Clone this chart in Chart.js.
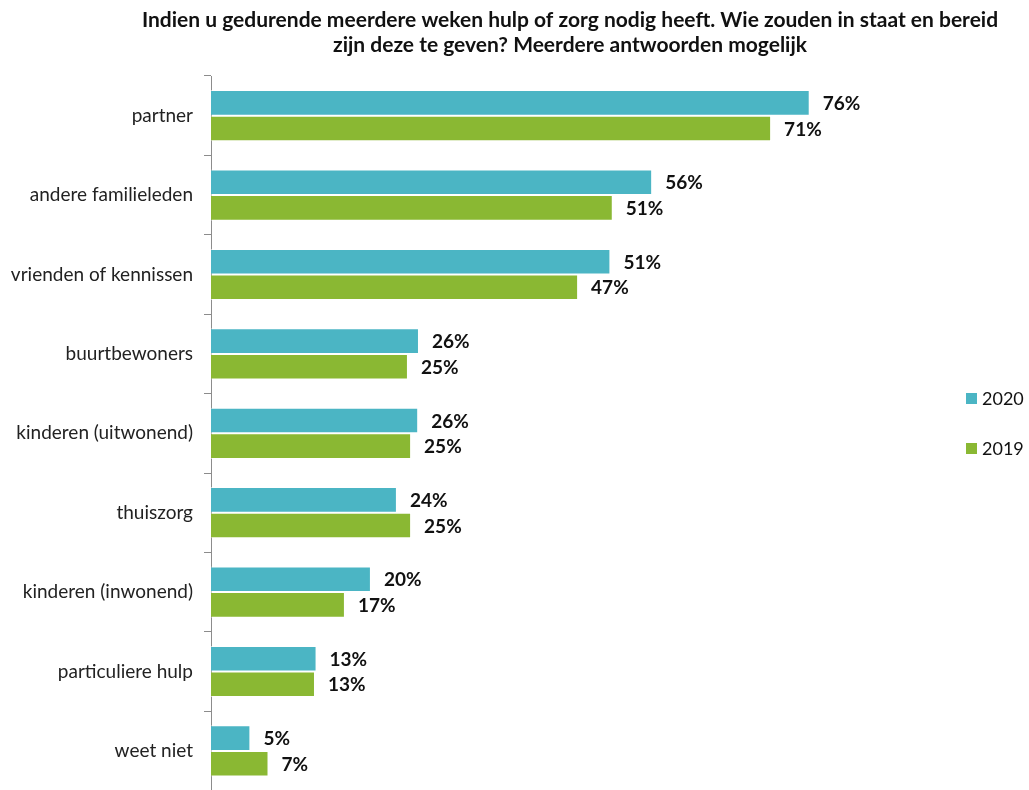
<!DOCTYPE html>
<html>
<head>
<meta charset="utf-8">
<script src="https://cdn.jsdelivr.net/npm/chart.js@4.4.1/dist/chart.umd.min.js"></script>
<style>
  html, body { margin: 0; padding: 0; background: #fff; overflow: hidden; }
  #wrap { position: relative; width: 1029px; height: 790px; overflow: hidden; }
  #wrap canvas { display: block; }
</style>
</head>
<body>
<div id="wrap"><canvas id="chart" width="1029" height="813"></canvas></div>
<script>
const titleLines = [
  'Indien u gedurende meerdere weken hulp of zorg nodig heeft. Wie zouden in staat en bereid',
  'zijn deze te geven? Meerdere antwoorden mogelijk'
];
const categories = [
  'partner',
  'andere familieleden',
  'vrienden of kennissen',
  'buurtbewoners',
  'kinderen (uitwonend)',
  'thuiszorg',
  'kinderen (inwonend)',
  'particuliere hulp',
  'weet niet'
];
const values2020 = [76.0, 56.0, 50.7, 26.4, 26.3, 23.6, 20.3, 13.4, 5.0];
const values2019 = [71.1, 51.0, 46.6, 25.0, 25.4, 25.4, 17.0, 13.2, 7.3];
const seriesNames = ['2020', '2019'];
const seriesColors = ['#4BB5C4', '#8AB833'];

const FONT = 'Lato, "Open Sans", sans-serif';

// Two-line bold heading above the plot
const heading = {
  id: 'heading',
  afterDraw(chart) {
    const ctx = chart.ctx;
    ctx.save();
    ctx.font = 'bold 21px ' + FONT;
    ctx.fillStyle = '#111';
    ctx.textAlign = 'center';
    ctx.textBaseline = 'alphabetic';
    titleLines.forEach((line, i) => ctx.fillText(line, 570, 27 + i * 25));
    ctx.restore();
  }
};

// Percentage labels at the end of each bar
const valueLabels = {
  id: 'valueLabels',
  afterDatasetsDraw(chart) {
    const ctx = chart.ctx;
    ctx.save();
    ctx.font = 'bold 19px ' + FONT;
    ctx.fillStyle = '#111';
    ctx.textAlign = 'left';
    ctx.textBaseline = 'middle';
    chart.data.datasets.forEach((ds, di) => {
      const meta = chart.getDatasetMeta(di);
      meta.data.forEach((bar, i) => {
        ctx.fillText(Math.round(ds.data[i]) + '%', bar.x + 13, bar.y + 1);
      });
    });
    ctx.restore();
  }
};

// Legend squares and names on the right-hand side
const sideLegend = {
  id: 'sideLegend',
  afterDraw(chart) {
    const ctx = chart.ctx;
    ctx.save();
    ctx.font = '18px ' + FONT;
    ctx.textBaseline = 'middle';
    ctx.textAlign = 'left';
    chart.data.datasets.forEach((ds, di) => {
      const y = 398 + di * 50;
      ctx.fillStyle = ds.backgroundColor;
      ctx.fillRect(966, y - 5, 11, 11);
      ctx.fillStyle = '#111';
      ctx.fillText(ds.label, 982, y + 1);
    });
    ctx.restore();
  }
};

new Chart(document.getElementById('chart'), {
  type: 'bar',
  data: {
    labels: categories,
    datasets: [
      { label: seriesNames[0], data: values2020, backgroundColor: seriesColors[0],
        borderColor: 'rgba(255,255,255,0.55)', borderWidth: 1 },
      { label: seriesNames[1], data: values2019, backgroundColor: seriesColors[1],
        borderColor: 'rgba(255,255,255,0.55)', borderWidth: 1 }
    ]
  },
  options: {
    indexAxis: 'y',
    responsive: false,
    animation: false,
    layout: { padding: { left: 0, right: 109, top: 76, bottom: 8 } },
    datasets: { bar: { categoryPercentage: 0.645, barPercentage: 1.0 } },
    scales: {
      x: { display: false, min: 0, max: 90 },
      y: {
        afterFit(scale) { scale.width = 211; },
        grid: { display: true, drawOnChartArea: false, drawTicks: true, tickLength: 7,
                color: '#8c8c8c', lineWidth: 1, offset: true },
        border: { display: true, color: '#8c8c8c', width: 1 },
        ticks: { color: '#222', font: { family: FONT, size: 19 }, padding: 11 }
      }
    },
    plugins: {
      legend: { display: false },
      tooltip: { enabled: false },
      title: { display: false }
    }
  },
  plugins: [heading, valueLabels, sideLegend]
});
</script>
</body>
</html>
